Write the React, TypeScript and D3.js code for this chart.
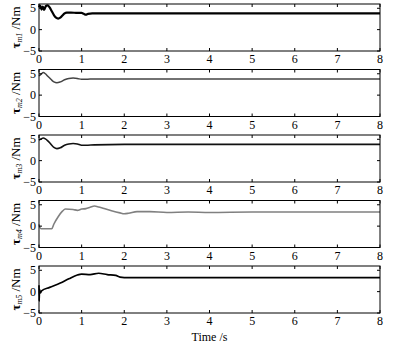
import * as d3 from 'd3';

const W = 395;
const H = 348;
const MARGIN = { top: 4, left: 39, right: 15 };
const PANEL_H = 47;
const PANEL_STEP = 65.5;

const X_TICKS = [0, 1, 2, 3, 4, 5, 6, 7, 8];
const Y_TICKS = [-5, 0, 5];

// torque traces, key points
const t1 = [0, 0.03, 0.06, 0.09, 0.12, 0.16, 0.2, 0.25, 0.3, 0.35, 0.4, 0.45, 0.5, 0.55, 0.6, 0.65, 0.75, 0.9, 1.0, 1.05, 1.1, 1.15, 1.25, 1.5, 2, 3, 4, 5, 6, 7, 8];
const v1 = [5.2, 5.6, 4.7, 5.4, 4.6, 5.5, 5.7, 5.2, 4.3, 3.4, 2.8, 2.6, 2.8, 3.3, 3.8, 4.0, 4.0, 3.9, 3.9, 3.7, 3.5, 3.7, 3.8, 3.8, 3.8, 3.8, 3.8, 3.8, 3.8, 3.8, 3.8];

const t2 = [0, 0.05, 0.1, 0.15, 0.2, 0.25, 0.3, 0.35, 0.42, 0.5, 0.6, 0.7, 0.8, 0.9, 1.0, 1.1, 1.3, 2, 3, 4, 5, 6, 7, 8];
const v2 = [4.5, 4.9, 5.3, 5.0, 4.5, 4.0, 3.5, 3.1, 2.9, 3.1, 3.6, 3.9, 4.0, 3.9, 3.7, 3.7, 3.8, 3.8, 3.8, 3.8, 3.8, 3.8, 3.8, 3.8];

const t3 = [0, 0.05, 0.1, 0.15, 0.2, 0.25, 0.3, 0.35, 0.42, 0.5, 0.6, 0.7, 0.8, 0.9, 1.0, 1.1, 1.3, 2, 3, 4, 5, 6, 7, 8];
const v3 = [4.8, 5.1, 5.3, 5.1, 4.7, 4.2, 3.6, 3.1, 2.8, 3.0, 3.6, 3.9, 4.0, 3.9, 3.6, 3.6, 3.7, 3.8, 3.8, 3.8, 3.8, 3.8, 3.8, 3.8];

const t4 = [0, 0.02, 0.05, 0.3, 0.35, 0.45, 0.55, 0.62, 0.8, 0.9, 1.0, 1.1, 1.2, 1.3, 1.4, 1.5, 1.7, 1.9, 2.0, 2.1, 2.3, 2.6, 3.0, 3.5, 4, 5, 6, 7, 8];
const v4 = [0.4, -0.3, -0.6, -0.6, 0.5, 2.2, 3.5, 4.0, 3.9, 3.7, 4.0, 4.1, 4.4, 4.7, 4.5, 4.2, 3.6, 3.1, 2.9, 3.0, 3.4, 3.4, 3.2, 3.3, 3.2, 3.3, 3.3, 3.3, 3.3];

const t5 = [0, 0.005, 0.01, 0.03, 0.06, 0.25, 0.5, 0.7, 0.9, 1.0, 1.2, 1.4, 1.6, 1.8, 1.9, 2.0, 3, 4, 5, 6, 7, 8];
const v5 = [1.5, -2.2, 0.6, -0.3, 0.2, 1.0, 2.0, 3.0, 3.9, 4.1, 4.0, 4.3, 4.0, 3.8, 3.4, 3.3, 3.3, 3.3, 3.3, 3.3, 3.3, 3.3];

const series = [
    { sub: 'm1', t: t1, v: v1, color: '#000', width: 2.2 },
    { sub: 'm2', t: t2, v: v2, color: '#444', width: 1.5 },
    { sub: 'm3', t: t3, v: v3, color: '#111', width: 1.6 },
    { sub: 'm4', t: t4, v: v4, color: '#808080', width: 1.6 },
    { sub: 'm5', t: t5, v: v5, color: '#000', width: 1.7 },
];

const FONT = '"Liberation Serif", "DejaVu Serif", serif';

export default function App() {
    const xScale = d3.scaleLinear().domain([0, 8]).range([MARGIN.left, W - MARGIN.right]);
    const yScale = d3.scaleLinear().domain([-5, 6]).range([PANEL_H, 0]);
    const [x0, x1] = xScale.range();

    const panels = series.map((s, i) => {
        const top = MARGIN.top + i * PANEL_STEP;
        const pts = s.t.map((t, j) => [t, s.v[j]] as [number, number]);
        const line = d3
            .line<[number, number]>()
            .x(d => xScale(d[0]))
            .y(d => yScale(d[1]))
            .curve(d3.curveMonotoneX);
        const midY = PANEL_H / 2;
        return (
            <g key={i} transform={`translate(0,${top})`}>
                <path d={line(pts) ?? ''} fill="none" stroke={s.color} strokeWidth={s.width} />
                <rect x={x0} y={0} width={x1 - x0} height={PANEL_H} fill="none" stroke="#000" strokeWidth={1} />
                {X_TICKS.map(t => (
                    <g key={t}>
                        <line x1={xScale(t)} x2={xScale(t)} y1={0} y2={3} stroke="#000" />
                        <line x1={xScale(t)} x2={xScale(t)} y1={PANEL_H} y2={PANEL_H - 3} stroke="#000" />
                        <text x={xScale(t)} y={PANEL_H + 12} textAnchor="middle" fontSize={12} fontFamily={FONT}>
                            {t}
                        </text>
                    </g>
                ))}
                {Y_TICKS.map(v => (
                    <g key={v}>
                        <line x1={x0} x2={x0 + 3} y1={yScale(v)} y2={yScale(v)} stroke="#000" />
                        <line x1={x1} x2={x1 - 3} y1={yScale(v)} y2={yScale(v)} stroke="#000" />
                        <text x={x0 - 3} y={yScale(v) + 4} textAnchor="end" fontSize={12} fontFamily={FONT}>
                            {v < 0 ? `\u2212${-v}` : v}
                        </text>
                    </g>
                ))}
                <text
                    transform={`translate(20,${midY}) rotate(-90)`}
                    textAnchor="middle"
                    fontSize={13}
                    fontFamily={FONT}
                >
                    <tspan fontWeight="bold">τ</tspan>
                    <tspan fontSize={8} dy={2} fontStyle="italic">{s.sub}</tspan>
                    <tspan dy={-2}> /Nm</tspan>
                </text>
            </g>
        );
    });

    return (
        <svg width={W} height={H} style={{ position: 'absolute', left: 0, top: 0, background: '#fff' }}>
            {panels}
            <text x={(x0 + x1) / 2} y={341} textAnchor="middle" fontSize={12} fontFamily={FONT}>
                Time /s
            </text>
        </svg>
    );
}
